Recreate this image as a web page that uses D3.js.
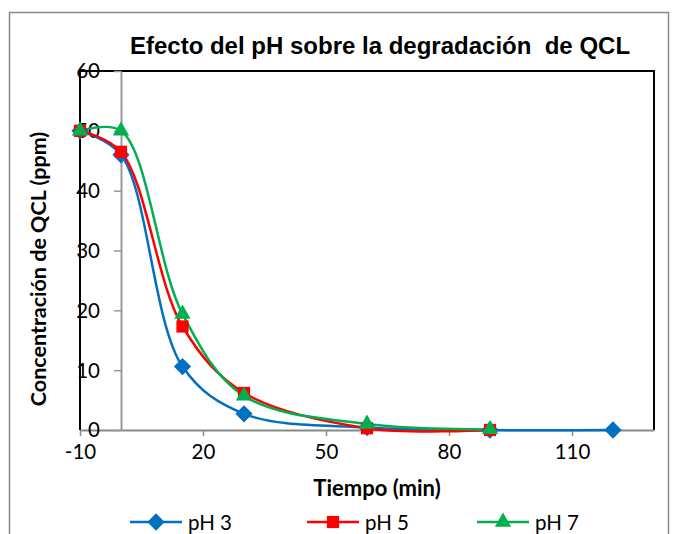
<!DOCTYPE html>
<html>
<head>
<meta charset="utf-8">
<script src="https://cdn.jsdelivr.net/npm/d3@7"></script>
<style>
  body { margin: 0; background: #fff; }
  text { font-family: Lato, "Open Sans", sans-serif; }
</style>
</head>
<body>
<div id="wrapper"></div>
<script>
// data
const tiempos = [-10, 0, 15, 30, 60, 90, 120]
const ph3 = [50, 46, 10.6, 2.7, 0.4, 0, 0]
const ph5 = [50, 46.5, 17.3, 6.2, 0.3, 0]
const ph7 = [50, 50, 19.4, 5.7, 1.0, 0.1]
const seriesNames = ["pH 3", "pH 5", "pH 7"]
const xTicks = [-10, 20, 50, 80, 110]
const yTicks = [0, 10, 20, 30, 40, 50, 60]

const series = [
  { name: seriesNames[0], values: ph3, color: "#0070C0", symbol: d3.symbolDiamond2 },
  { name: seriesNames[1], values: ph5, color: "#FF0000", symbol: d3.symbolSquare2 },
  { name: seriesNames[2], values: ph7, color: "#00B050", symbol: d3.symbolTriangle2 },
]

const dimensions = {
  width: 676,
  height: 534,
  margin: { top: 71, right: 22, bottom: 104, left: 80 },
}
dimensions.boundedWidth = dimensions.width - dimensions.margin.left - dimensions.margin.right
dimensions.boundedHeight = dimensions.height - dimensions.margin.top - dimensions.margin.bottom

const wrapper = d3.select("#wrapper")
  .append("svg")
  .attr("width", dimensions.width)
  .attr("height", dimensions.height)

// outer chart border
wrapper.append("rect")
  .attr("x", 9.5).attr("y", 12.5)
  .attr("width", 659).attr("height", 540)
  .attr("fill", "none")
  .attr("stroke", "#888")
  .attr("stroke-width", 1.5)

wrapper.append("text")
  .attr("x", 380)
  .attr("y", 54)
  .attr("text-anchor", "middle")
  .style("font-family", "'Liberation Sans', Arial, sans-serif")
  .style("font-weight", "bold")
  .style("font-size", "24px")
  .style("white-space", "pre")
  .text("Efecto del pH sobre la degradación  de QCL")

const bounds = wrapper.append("g")
  .attr("transform", `translate(${dimensions.margin.left}, ${dimensions.margin.top})`)

const xScale = d3.scaleLinear()
  .domain([-10, 130])
  .range([0, dimensions.boundedWidth])

const yScale = d3.scaleLinear()
  .domain([0, 60])
  .range([dimensions.boundedHeight, 0])

// plot area frame (black on top, left and right)
bounds.append("path")
  .attr("d", `M0,${dimensions.boundedHeight}V0H${dimensions.boundedWidth}V${dimensions.boundedHeight}`)
  .attr("fill", "none")
  .attr("stroke", "#000")
  .attr("stroke-width", 2)

// x axis
const xAxis = bounds.append("g")
  .attr("transform", `translate(0, ${dimensions.boundedHeight})`)
  .call(d3.axisBottom(xScale).tickValues(xTicks).tickSize(6).tickSizeOuter(0).tickPadding(8)
    .tickFormat(d => String(d)))
xAxis.select(".domain").attr("stroke", "#888").attr("stroke-width", 2)
xAxis.selectAll(".tick line").attr("stroke", "#888").attr("stroke-width", 1.5)
xAxis.selectAll(".tick text")
  .attr("fill", "#000")
  .style("font-size", "20.5px")
  .style("font-family", "Lato, sans-serif")

// y axis crossing at x = 0 (gray), labels drawn near the left frame
const yAxis = bounds.append("g")
  .attr("transform", `translate(${xScale(0)}, 0)`)
  .call(d3.axisLeft(yScale).tickValues(yTicks).tickSize(7).tickSizeOuter(0).tickFormat(() => ""))
yAxis.select(".domain").attr("stroke", "#999").attr("stroke-width", 2)
yAxis.selectAll(".tick line").attr("stroke", "#999").attr("stroke-width", 1.5)

bounds.append("g")
  .selectAll("text")
  .data(yTicks)
  .join("text")
  .attr("x", 20)
  .attr("y", d => yScale(d))
  .attr("dy", "0.36em")
  .attr("text-anchor", "end")
  .style("font-size", "20.5px")
  .text(d => d)

// smooth lines
const line = d3.line()
  .x((d, i) => xScale(tiempos[i]))
  .y(d => yScale(d))
  .curve(d3.curveCatmullRom.alpha(0.5))

series.forEach(s => {
  bounds.append("path")
    .datum(s.values)
    .attr("d", line)
    .attr("fill", "none")
    .attr("stroke", s.color)
    .attr("stroke-width", 2.5)
})

series.forEach(s => {
  bounds.append("g")
    .selectAll("path")
    .data(s.values)
    .join("path")
    .attr("transform", (d, i) => `translate(${xScale(tiempos[i])}, ${yScale(d)})`)
    .attr("d", d3.symbol(s.symbol, 190))
    .attr("fill", s.color)
})

// axis titles
wrapper.append("text")
  .attr("x", 377)
  .attr("y", 496)
  .attr("text-anchor", "middle")
  .style("font-weight", "bold")
  .style("font-size", "22px")
  .text("Tiempo (min)")

wrapper.append("text")
  .attr("transform", "translate(46, 269) rotate(-90)")
  .attr("text-anchor", "middle")
  .style("font-weight", "bold")
  .style("font-size", "21.5px")
  .text("Concentración de QCL (ppm)")

// legend
const legendX = [130, 307, 477]
const legend = wrapper.append("g")
  .selectAll("g")
  .data(series)
  .join("g")
  .attr("transform", (d, i) => `translate(${legendX[i]}, 522)`)

legend.append("line")
  .attr("x1", 0).attr("x2", 52)
  .attr("stroke", d => d.color)
  .attr("stroke-width", 2.5)

legend.append("path")
  .attr("transform", "translate(26, 0)")
  .attr("d", d => d3.symbol(d.symbol, 190)())
  .attr("fill", d => d.color)

legend.append("text")
  .attr("x", 58)
  .attr("y", 8)
  .style("font-size", "20.5px")
  .text(d => d.name)
</script>
</body>
</html>
